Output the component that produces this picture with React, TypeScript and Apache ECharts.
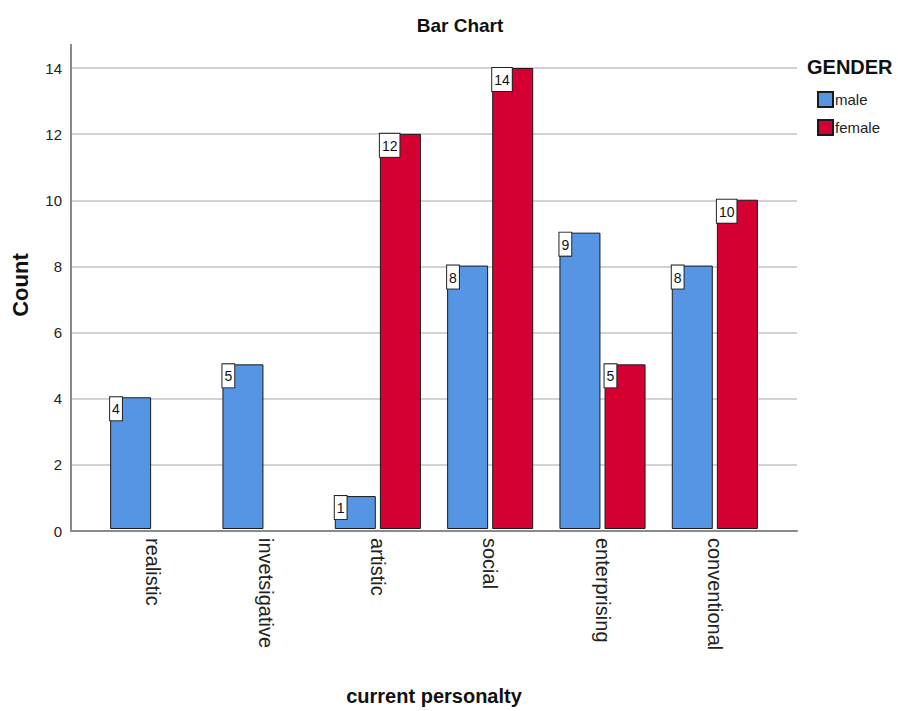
import React, { useEffect, useRef } from "react";
import * as echarts from "echarts";

const categories = ["realistic", "invetsigative", "artistic", "social", "enterprising", "conventional"];
const maleCounts: (number | null)[] = [4, 5, 1, 8, 9, 8];
const femaleCounts: (number | null)[] = [null, null, 12, 14, 5, 10];
const yTicks = { min: 0, max: 14, interval: 2 };

const FONT = "'Liberation Sans', Arial, sans-serif";
const BLUE = "#5595e3";
const RED = "#d50032";

const valueLabel = {
  show: true,
  position: "insideTopLeft" as const,
  distance: 0,
  color: "#111",
  fontFamily: FONT,
  fontSize: 14,
  backgroundColor: "#fff",
  borderColor: "#222",
  borderWidth: 1,
  padding: [5, 2, 4, 2],
};

export default function App() {
  const ref = useRef<HTMLDivElement>(null);

  useEffect(() => {
    if (!ref.current) return;
    const chart = echarts.init(ref.current, null, { renderer: "svg" });
    const top = 68;
    const bottom = 711 - 531;
    chart.setOption({
      animation: false,
      backgroundColor: "#fff",
      textStyle: { fontFamily: FONT },
      legend: {
        data: ["male", "female"],
        orient: "vertical",
        left: 817,
        top: 91,
        padding: 0,
        icon: "rect",
        itemWidth: 15,
        itemHeight: 15,
        itemGap: 11,
        textStyle: { fontFamily: FONT, fontSize: 15, color: "#222", padding: [0, 0, 0, -3] },
      },
      grid: [
        { left: 71, right: 898 - 797, top, bottom },
        { left: 97, right: 127, top, bottom },
      ],
      xAxis: [
        {
          gridIndex: 0,
          type: "value",
          min: 0,
          max: 1,
          axisLine: { show: true, lineStyle: { color: "#8a8a8a", width: 2 } },
          axisTick: { show: false },
          axisLabel: { show: false },
          splitLine: { show: false },
        },
        {
          gridIndex: 1,
          type: "category",
          data: categories,
          axisLine: { show: false },
          axisTick: { show: false },
          axisLabel: {
            rotate: -90,
            margin: 9,
            fontFamily: FONT,
            fontSize: 20,
            color: "#222",
          },
          name: "current personalty",
          nameLocation: "middle",
          nameGap: 167,
          nameTextStyle: {
            fontFamily: FONT,
            fontSize: 20,
            fontWeight: "bold",
            color: "#111",
            verticalAlign: "middle",
          },
        },
      ],
      yAxis: [
        {
          gridIndex: 0,
          type: "value",
          min: yTicks.min,
          max: yTicks.max,
          interval: yTicks.interval,
          axisLine: { show: false },
          axisTick: { show: false },
          axisLabel: { margin: 9, fontFamily: FONT, fontSize: 15, color: "#222" },
          splitLine: { show: true, lineStyle: { color: "#d2d2d2", width: 2 } },
        },
        {
          gridIndex: 1,
          type: "value",
          min: yTicks.min,
          max: yTicks.max,
          interval: yTicks.interval,
          show: false,
          splitLine: { show: false },
        },
      ],
      series: [
        {
          name: "male",
          type: "bar",
          xAxisIndex: 1,
          yAxisIndex: 1,
          data: maleCounts,
          barWidth: 41,
          barGap: "10%",
          itemStyle: { color: BLUE, borderColor: "#1a1a1a", borderWidth: 1 },
          label: valueLabel,
        },
        {
          name: "female",
          type: "bar",
          xAxisIndex: 1,
          yAxisIndex: 1,
          data: femaleCounts,
          barWidth: 41,
          barGap: "10%",
          itemStyle: { color: RED, borderColor: "#1a1a1a", borderWidth: 1 },
          label: valueLabel,
        },
      ],
      graphic: [
        {
          type: "line",
          shape: { x1: 71, y1: 44, x2: 71, y2: 532 },
          style: { stroke: "#8a8a8a", lineWidth: 2 },
          z: 10,
        },
        {
          type: "text",
          x: 460,
          y: 25,
          style: {
            text: "Bar Chart",
            fontFamily: FONT,
            fontSize: 19,
            fontWeight: "bold",
            fill: "#111",
            align: "center",
            verticalAlign: "middle",
          },
        },
        {
          type: "text",
          x: 20,
          y: 285,
          rotation: Math.PI / 2,
          style: {
            text: "Count",
            fontFamily: FONT,
            fontSize: 22,
            fontWeight: "bold",
            fill: "#111",
            align: "center",
            verticalAlign: "middle",
          },
        },
        {
          type: "text",
          x: 807,
          y: 67,
          style: {
            text: "GENDER",
            fontFamily: FONT,
            fontSize: 20,
            fontWeight: "bold",
            fill: "#111",
            align: "left",
            verticalAlign: "middle",
          },
        },
      ],
    });
    return () => chart.dispose();
  }, []);

  return (
    <div
      ref={ref}
      style={{ position: "absolute", left: 0, top: 0, width: 898, height: 711 }}
    />
  );
}
